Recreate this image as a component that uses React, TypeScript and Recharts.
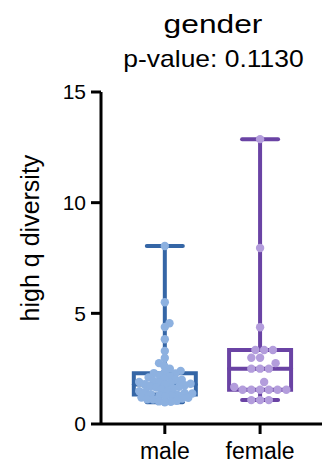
import { ComposedChart, Scatter, XAxis, YAxis, ReferenceArea, ReferenceLine } from "recharts"

const groups = ["male", "female"]
const maleValues = [
  8.04, 5.5, 4.55, 4.38, 3.83, 3.3, 2.98, 2.75, 2.62, 2.5, 2.4, 2.35, 2.3, 2.28, 2.2, 2.15, 2.1,
  2.05, 2.0, 2.0, 1.95, 1.9, 1.88, 1.85, 1.82, 1.8, 1.78, 1.75, 1.7, 1.68, 1.65, 1.6, 1.55, 1.5,
  1.48, 1.45, 1.4, 1.38, 1.35, 1.32, 1.3, 1.28, 1.25, 1.2, 1.18, 1.15, 1.12, 1.1, 1.05, 1.02, 1.0, 0.98,
]
const femaleValues = [
  12.87, 7.95, 4.37, 3.34, 3.34, 3.34, 2.99, 2.99, 2.75, 2.5, 2.5, 2.5, 1.9, 1.67,
  1.55, 1.55, 1.55, 1.55, 1.55, 1.55, 1.08, 1.08, 1.08,
]
const yTicks = [0, 5, 10, 15]
const title = "gender"
const subtitle = "p-value: 0.1130"
const yLabel = "high q diversity"

const lineColors = ["#3566a6", "#6a43a4"]
const dotColors = ["#8db1e0", "#b39ddc"]
const FONT = "'Liberation Sans', Arial, sans-serif"

const WIDTH = 324
const HEIGHT = 471
const MARGIN = { top: 92, right: 2, bottom: 7, left: 0 }
const Y_AXIS_W = 101
const X_AXIS_H = 40
const X_DOMAIN = [0.33, 2.65]
const Y_DOMAIN = [0, 15]
const PLOT_W = WIDTH - MARGIN.left - MARGIN.right - Y_AXIS_W
const PLOT_H = HEIGHT - MARGIN.top - MARGIN.bottom - X_AXIS_H
const PX_X = PLOT_W / (X_DOMAIN[1] - X_DOMAIN[0])
const PX_Y = PLOT_H / (Y_DOMAIN[1] - Y_DOMAIN[0])
const DOT_R = 4.2
const MAX_GAP = 9
const MAX_SPREAD = 28
const BOX_HALF = 31 / PX_X
const CAP_HALF = 18 / PX_X
const LINE_W = 4

function quantile(sorted: number[], p: number) {
  const pos = Math.min(Math.max((sorted.length + 1) * p, 1), sorted.length) - 1
  const lo = Math.floor(pos)
  const hi = Math.ceil(pos)
  return sorted[lo] + (sorted[hi] - sorted[lo]) * (pos - lo)
}

// simple beeswarm: horizontal offsets in px for a given spacing
function swarmAt(values: number[], gap: number) {
  const placed: { x: number; y: number }[] = []
  const out: number[] = new Array(values.length).fill(0)
  const order = values.map((_, i) => i).sort((a, b) => values[a] - values[b])
  const d2 = gap * gap
  for (const i of order) {
    const y = values[i] * PX_Y
    const near = placed.filter((p) => Math.abs(p.y - y) < gap)
    const cands = [0]
    for (const p of near) {
      const dx = Math.sqrt(d2 - (p.y - y) ** 2)
      cands.push(p.x + dx, p.x - dx)
    }
    cands.sort((a, b) => Math.abs(a) - Math.abs(b))
    const x = cands.find((c) => near.every((p) => (p.x - c) ** 2 + (p.y - y) ** 2 >= d2 - 1e-6)) ?? 0
    placed.push({ x, y })
    out[i] = x
  }
  return out
}

// shrink spacing (dots overlap) until the swarm fits inside the box
function swarm(values: number[]) {
  let gap = MAX_GAP
  let offs = swarmAt(values, gap)
  while (gap > 2 && Math.max(...offs.map(Math.abs)) > MAX_SPREAD) {
    gap -= 0.25
    offs = swarmAt(values, gap)
  }
  return offs
}

const series = [maleValues, femaleValues].map((vals, gi) => {
  const sorted = [...vals].sort((a, b) => a - b)
  const offsets = swarm(vals)
  return {
    name: groups[gi],
    pos: gi + 1,
    points: vals.map((v, i) => ({ x: gi + 1 + offsets[i] / PX_X, y: v })),
    min: sorted[0],
    q1: quantile(sorted, 0.25),
    median: quantile(sorted, 0.5),
    q3: quantile(sorted, 0.75),
    max: sorted[sorted.length - 1],
  }
})

const tickStyle = { fill: "#000", fontSize: 21, fontFamily: FONT }

export default function App() {
  return (
    <div style={{ position: "absolute", left: 0, top: 0, width: WIDTH, height: HEIGHT, background: "#fff" }}>
      <ComposedChart width={WIDTH} height={HEIGHT} margin={MARGIN}>
        <XAxis
          type="number"
          dataKey="x"
          domain={X_DOMAIN}
          allowDataOverflow
          ticks={[1, 2]}
          tickFormatter={(v: number) => groups[v - 1] ?? ""}
          height={X_AXIS_H}
          axisLine={{ stroke: "#000", strokeWidth: 3 }}
          tickLine={{ stroke: "#000", strokeWidth: 3 }}
          tickSize={10}
          tickMargin={9}
          tick={{ ...tickStyle, fontSize: 23 }}
        />
        <YAxis
          type="number"
          dataKey="y"
          domain={Y_DOMAIN}
          allowDataOverflow
          ticks={yTicks}
          width={Y_AXIS_W}
          axisLine={{ stroke: "#000", strokeWidth: 3 }}
          tickLine={{ stroke: "#000", strokeWidth: 3 }}
          tickSize={10}
          tickMargin={5}
          tick={tickStyle}
        />
        {series.map((s, gi) => (
          <ReferenceArea
            key={"box" + gi}
            x1={s.pos - BOX_HALF}
            x2={s.pos + BOX_HALF}
            y1={s.q1}
            y2={s.q3}
            fill="none"
            stroke={lineColors[gi]}
            strokeWidth={LINE_W}
            fillOpacity={0}
            strokeOpacity={1}
          />
        ))}
        {series.flatMap((s, gi) => [
          [{ x: s.pos, y: s.q3 }, { x: s.pos, y: s.max }],
          [{ x: s.pos, y: s.min }, { x: s.pos, y: s.q1 }],
          [{ x: s.pos - BOX_HALF, y: s.median }, { x: s.pos + BOX_HALF, y: s.median }],
          [{ x: s.pos - CAP_HALF, y: s.max }, { x: s.pos + CAP_HALF, y: s.max }],
          [{ x: s.pos - CAP_HALF, y: s.min }, { x: s.pos + CAP_HALF, y: s.min }],
        ].map((seg, k) => (
          <ReferenceLine
            key={`seg${gi}-${k}`}
            segment={seg}
            stroke={lineColors[gi]}
            strokeWidth={LINE_W}
            strokeLinecap="round"
            strokeOpacity={1}
          />
        )))}
        {series.map((s, gi) => (
          <Scatter
            key={s.name}
            name={s.name}
            data={s.points}
            isAnimationActive={false}
            shape={(p: any) => <circle cx={p.cx} cy={p.cy} r={DOT_R} fill={dotColors[gi]} />}
          />
        ))}
      </ComposedChart>
      <svg
        width={WIDTH}
        height={HEIGHT}
        style={{ position: "absolute", left: 0, top: 0, pointerEvents: "none" }}
        fontFamily={FONT}
      >
        <text transform="translate(213,33) scale(1.22,1)" textAnchor="middle" fontSize={26} fill="#000">
          {title}
        </text>
        <text transform="translate(213.5,66.5) scale(1.15,1)" textAnchor="middle" fontSize={23} fill="#000">
          {subtitle}
        </text>
        <text
          transform="translate(30,238) rotate(-90)"
          textAnchor="middle"
          dominantBaseline="central"
          fontSize={25}
          fill="#000"
        >
          {yLabel}
        </text>
      </svg>
    </div>
  )
}
